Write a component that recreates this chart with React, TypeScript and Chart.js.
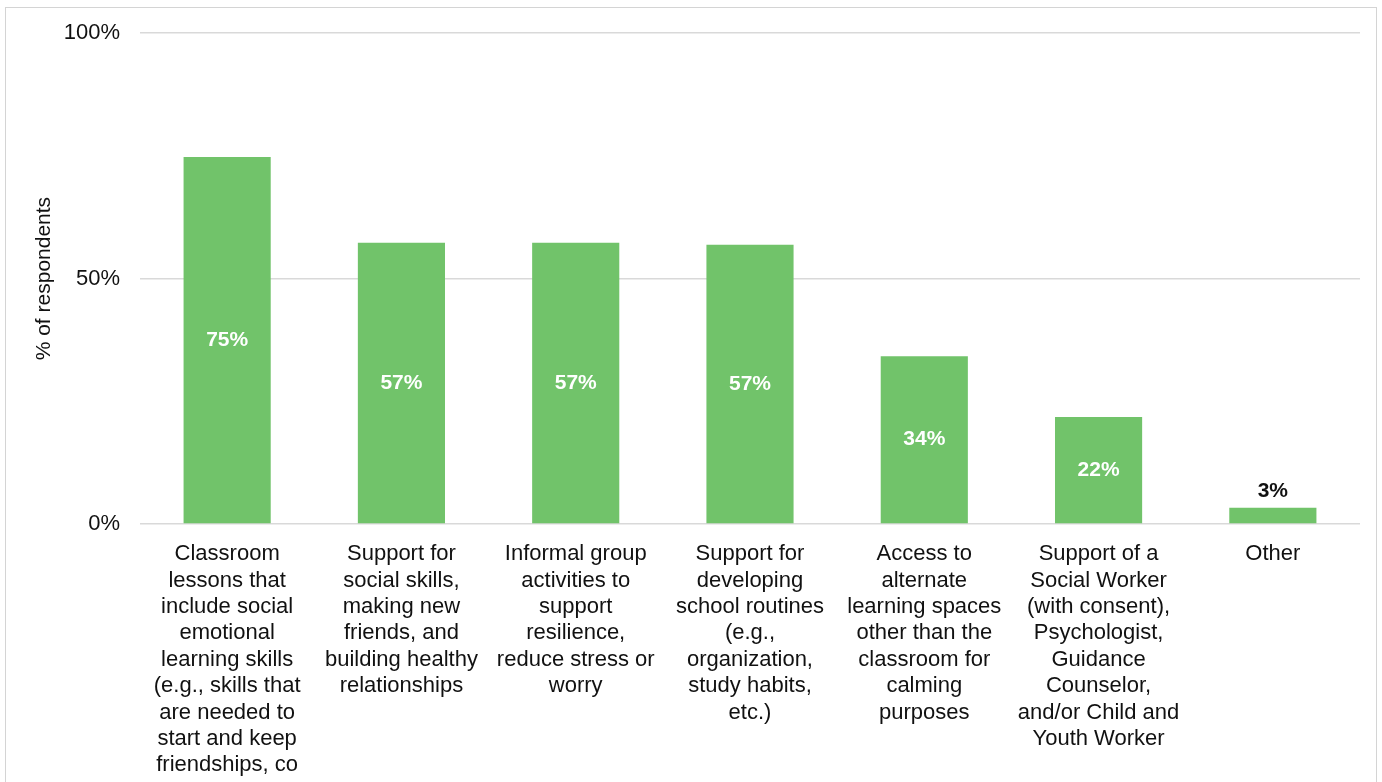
import React, { useEffect, useRef } from "react";
import { Chart, registerables } from "chart.js";

Chart.register(...registerables);

const categories: string[][] = [
  ["Classroom", "lessons that", "include social", "emotional", "learning skills", "(e.g., skills that", "are needed to", "start and keep", "friendships, co"],
  ["Support for", "social skills,", "making new", "friends, and", "building healthy", "relationships"],
  ["Informal group", "activities to", "support", "resilience,", "reduce stress or", "worry"],
  ["Support for", "developing", "school routines", "(e.g.,", "organization,", "study habits,", "etc.)"],
  ["Access to", "alternate", "learning spaces", "other than the", "classroom for", "calming", "purposes"],
  ["Support of a", "Social Worker", "(with consent),", "Psychologist,", "Guidance", "Counselor,", "and/or Child and", "Youth Worker"],
  ["Other"],
];
const values: number[] = [74.8, 57.3, 57.3, 56.9, 34.2, 21.8, 3.3];
const yTicks: number[] = [0, 50, 100];
const yTitle = "% of respondents";

const FONT = "'Liberation Sans', Arial, sans-serif";

const dataLabelPlugin = {
  id: "dataLabelPlugin",
  afterDatasetsDraw(chart: any) {
    const ctx = chart.ctx;
    const meta = chart.getDatasetMeta(0);
    ctx.save();
    ctx.font = `bold 21px ${FONT}`;
    ctx.textAlign = "center";
    ctx.textBaseline = "middle";
    meta.data.forEach((bar: any, i: number) => {
      const v = values[i];
      const label = `${Math.round(v)}%`;
      if (v < 10) {
        ctx.fillStyle = "#111111";
        ctx.fillText(label, bar.x, bar.y - 17);
      } else {
        ctx.fillStyle = "#ffffff";
        ctx.fillText(label, bar.x, (bar.y + bar.base) / 2);
      }
    });
    ctx.restore();
  },
};

export default function App() {
  const canvasRef = useRef<HTMLCanvasElement | null>(null);

  useEffect(() => {
    if (!canvasRef.current) return;
    const chart = new Chart(canvasRef.current, {
      type: "bar",
      data: {
        labels: categories,
        datasets: [
          {
            data: values,
            backgroundColor: "#71C36A",
            borderWidth: 0,
            barPercentage: 0.5,
            categoryPercentage: 1,
          },
        ],
      },
      options: {
        animation: false,
        responsive: true,
        maintainAspectRatio: false,
        layout: { padding: { top: 30, right: 22, left: 0, bottom: 0 } },
        plugins: {
          legend: { display: false },
          tooltip: { enabled: false },
        },
        scales: {
          x: {
            grid: { display: false, drawTicks: false },
            border: { display: false },
            ticks: {
              autoSkip: false,
              maxRotation: 0,
              minRotation: 0,
              padding: 17,
              color: "#111111",
              font: { family: FONT, size: 22, lineHeight: 1.2 },
            },
            afterFit(scale: any) {
              scale.height = 258;
            },
          },
          y: {
            min: 0,
            max: 100,
            afterBuildTicks(scale: any) {
              scale.ticks = yTicks.map((v) => ({ value: v }));
            },
            grid: { color: "#d9d9d9", lineWidth: 1.5, drawTicks: false },
            border: { display: false },
            ticks: {
              padding: 20,
              color: "#111111",
              font: { family: FONT, size: 22 },
              callback: (v: any) => `${v}%`,
            },
            title: {
              display: true,
              text: yTitle,
              color: "#111111",
              font: { family: FONT, size: 21 },
              padding: { top: 32, bottom: 0 },
            },
            afterFit(scale: any) {
              scale.width = 140;
            },
          },
        },
      },
      plugins: [dataLabelPlugin],
    } as any);
    return () => chart.destroy();
  }, []);

  return (
    <>
      <style>{"body{margin:0;overflow:hidden;background:#fff}"}</style>
      <div
        style={{
          position: "fixed",
          left: 5,
          top: 7,
          width: 1372,
          height: 820,
          border: "1px solid #d4d4d4",
          boxSizing: "border-box",
          background: "#fff",
        }}
      />
      <div style={{ position: "fixed", left: 0, top: 0, width: 1382, height: 782 }}>
        <canvas ref={canvasRef} />
      </div>
    </>
  );
}
